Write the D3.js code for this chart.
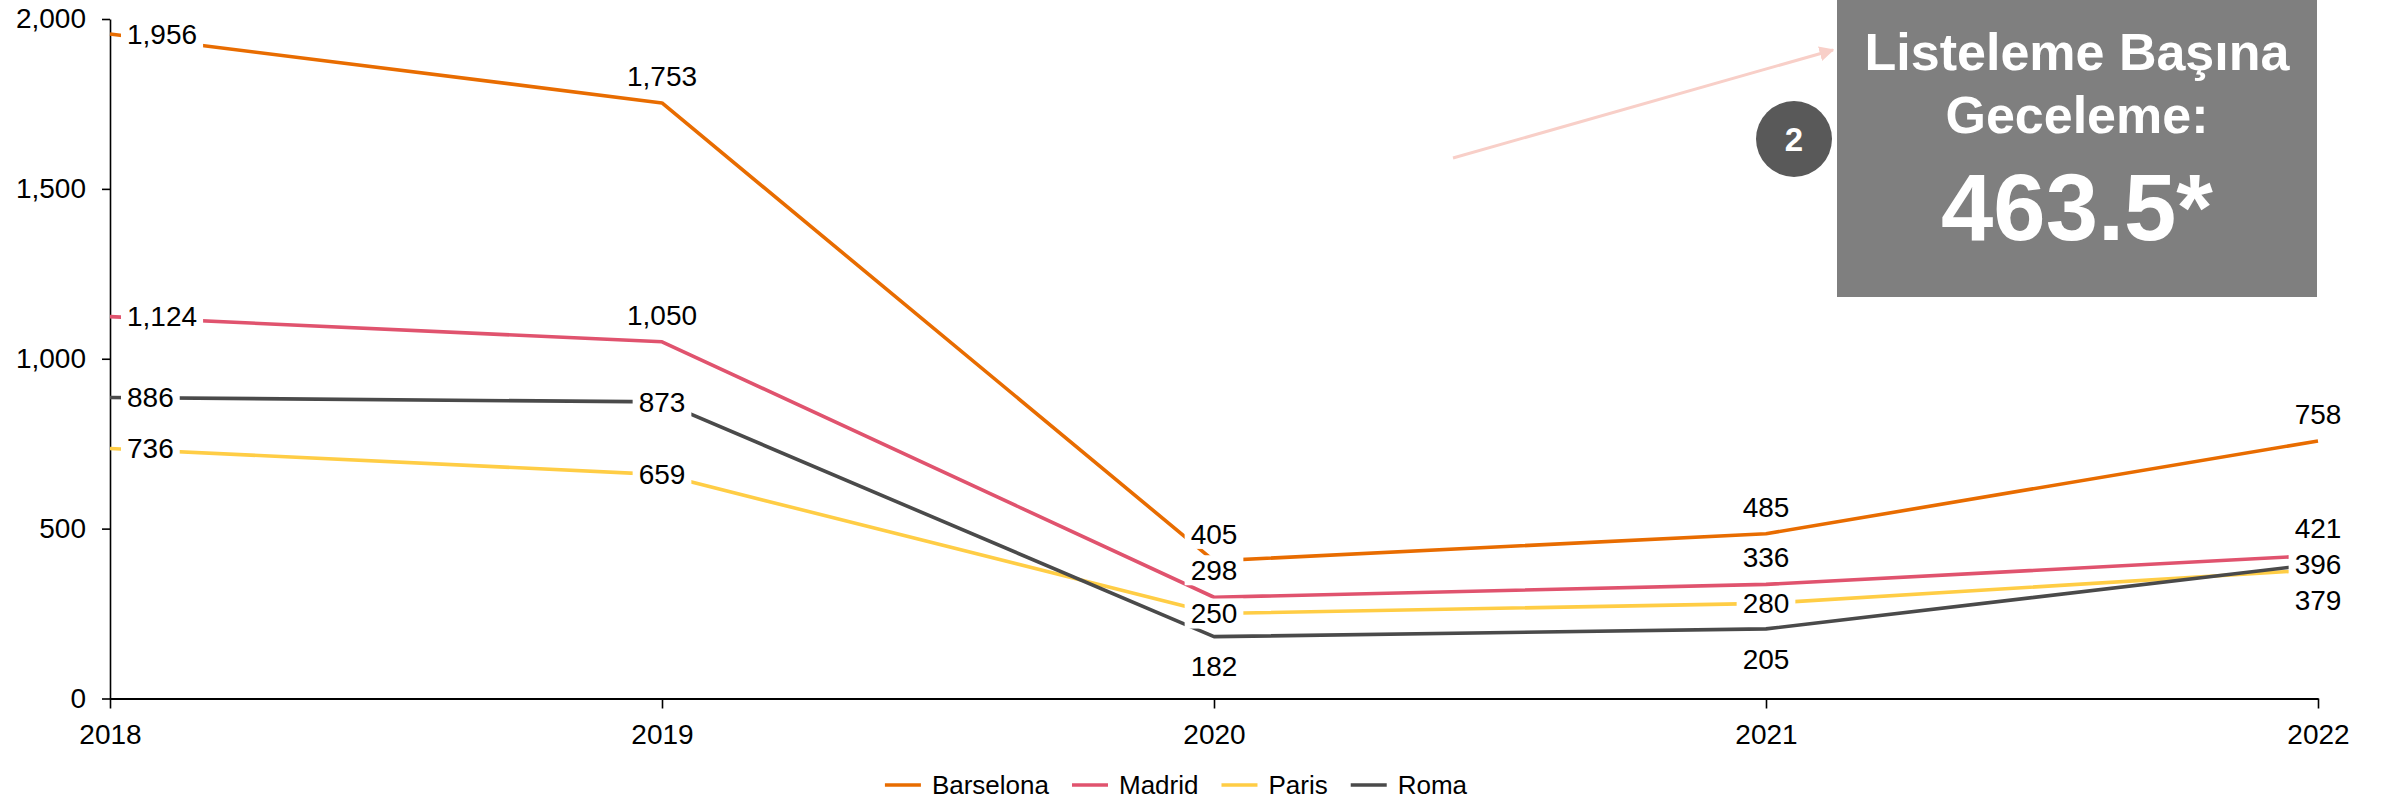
<!DOCTYPE html>
<html>
<head>
<meta charset="utf-8">
<script src="https://cdn.jsdelivr.net/npm/d3@7"></script>
<style>
  html, body { margin: 0; padding: 0; background: #ffffff; }
  svg { display: block; font-family: Arial, "Liberation Sans", sans-serif; }
</style>
</head>
<body>
<svg id="chart" width="2384" height="801"></svg>
<script>
// ---- Data ----
const years = ["2018", "2019", "2020", "2021", "2022"];
const seriesNames = ["Barselona", "Madrid", "Paris", "Roma"];
const barselona = [1956, 1753, 405, 485, 758];
const madrid = [1124, 1050, 298, 336, 421];
const paris = [736, 659, 250, 280, 379];
const roma = [886, 873, 182, 205, 396];
const yTicks = [0, 500, 1000, 1500, 2000];
const calloutLines = ["Listeleme Başına", "Geceleme:"];
const calloutValue = "463.5*";
const calloutBadge = "2";

// label placement for each series (right / above / below / center)
const labelPlacement = {
  Barselona: ["right", "above", "above", "above", "above"],
  Madrid:    ["right", "above", "above", "above", "above"],
  Paris:     ["right", "center", "center", "center", "below"],
  Roma:      ["right", "center", "below", "below", "center"]
};

const seriesValues = [barselona, madrid, paris, roma];
const colors = ["#E86C00", "#E0536E", "#FFCD45", "#4A4A4A"];

// ---- Layout ----
const svg = d3.select("#chart");
const x = d3.scalePoint().domain(years).range([110, 2318]).padding(0);
const y = d3.scaleLinear().domain([0, 2000]).range([698.5, 19]);
const fontFam = 'Arial, "Liberation Sans", sans-serif';

// Y axis
const yAxis = svg.append("g")
  .attr("transform", "translate(110,0)")
  .call(d3.axisLeft(y).tickValues(yTicks).tickSize(8).tickSizeOuter(0).tickPadding(16).tickFormat(d3.format(",")));
yAxis.select(".domain").attr("stroke", "#000").attr("stroke-width", 1.6);
yAxis.selectAll(".tick line").attr("stroke", "#000").attr("stroke-width", 1.6);
yAxis.selectAll(".tick text").attr("font-size", 28).attr("font-family", fontFam).attr("fill", "#000");

// X axis
const xAxis = svg.append("g")
  .attr("transform", "translate(0,698.5)")
  .call(d3.axisBottom(x).tickSize(10).tickSizeOuter(0).tickPadding(16));
xAxis.select(".domain").attr("stroke", "#000").attr("stroke-width", 2);
xAxis.selectAll(".tick line").attr("stroke", "#000").attr("stroke-width", 1.6);
xAxis.selectAll(".tick text").attr("font-size", 28).attr("font-family", fontFam).attr("fill", "#000");

// Lines
const line = d3.line().x((d, i) => x(years[i])).y(d => y(d));
const linesG = svg.append("g");
seriesValues.forEach((vals, si) => {
  linesG.append("path")
    .attr("d", line(vals))
    .attr("fill", "none")
    .attr("stroke", colors[si])
    .attr("stroke-width", 3.6)
    .attr("stroke-linejoin", "round");
});

// Data labels with white backgrounds
const labelsG = svg.append("g");
const fmt = d3.format(",");
seriesValues.forEach((vals, si) => {
  const name = seriesNames[si];
  vals.forEach((v, i) => {
    const px = x(years[i]);
    const py = y(v);
    const pos = labelPlacement[name][i];
    let tx = px, ty = py, anchor = "middle";
    if (pos === "right") { tx = px + 17; anchor = "start"; }
    else if (pos === "above") { ty = py - 27; }
    else if (pos === "below") { ty = py + 30; }
    const g = labelsG.append("g");
    const rect = g.append("rect").attr("fill", "#fff");
    const t = g.append("text")
      .attr("x", tx).attr("y", ty).attr("dy", "0.35em")
      .attr("text-anchor", anchor)
      .attr("font-size", 28).attr("font-family", fontFam).attr("fill", "#000")
      .text(fmt(v));
    const bb = t.node().getBBox();
    rect.attr("x", bb.x - 6).attr("y", ty - 15).attr("width", bb.width + 12).attr("height", 30);
  });
});

// Legend
const legendG = svg.append("g");
const legendY = 785;
const items = [];
seriesNames.forEach((name, si) => {
  const g = legendG.append("g");
  g.append("line").attr("x1", 0).attr("x2", 36).attr("y1", 0).attr("y2", 0)
    .attr("stroke", colors[si]).attr("stroke-width", 3.6);
  const t = g.append("text").attr("x", 47).attr("y", 0).attr("dy", "0.35em")
    .attr("font-size", 26).attr("font-family", fontFam).attr("fill", "#000").text(name);
  const w = 47 + t.node().getComputedTextLength();
  items.push({ g, w });
});
const gap = 23;
const totalW = d3.sum(items, d => d.w) + gap * (items.length - 1);
let cx = 1176 - totalW / 2;
items.forEach(it => {
  it.g.attr("transform", `translate(${cx},${legendY})`);
  cx += it.w + gap;
});

// Callout box
const defs = svg.append("defs");
defs.append("marker")
  .attr("id", "arrowHead")
  .attr("viewBox", "0 0 10 10")
  .attr("refX", 9).attr("refY", 5)
  .attr("markerWidth", 5).attr("markerHeight", 5)
  .attr("orient", "auto")
  .append("path").attr("d", "M0,0 L10,5 L0,10 z").attr("fill", "#F8CFC8");

svg.append("line")
  .attr("x1", 1453).attr("y1", 158).attr("x2", 1833).attr("y2", 50)
  .attr("stroke", "#F8CFC8").attr("stroke-width", 3)
  .attr("marker-end", "url(#arrowHead)");

svg.append("rect").attr("x", 1837).attr("y", 0).attr("width", 480).attr("height", 297).attr("fill", "#7F7F7F");
svg.append("text").attr("x", 2077).attr("y", 70).attr("text-anchor", "middle")
  .attr("font-size", 52).attr("font-weight", "bold").attr("font-family", fontFam).attr("fill", "#fff")
  .text(calloutLines[0]);
svg.append("text").attr("x", 2077).attr("y", 133).attr("text-anchor", "middle")
  .attr("font-size", 52).attr("font-weight", "bold").attr("font-family", fontFam).attr("fill", "#fff")
  .text(calloutLines[1]);
svg.append("text").attr("x", 2077).attr("y", 240).attr("text-anchor", "middle")
  .attr("font-size", 94).attr("font-weight", "bold").attr("font-family", fontFam).attr("fill", "#fff")
  .text(calloutValue);

svg.append("circle").attr("cx", 1794).attr("cy", 139).attr("r", 38).attr("fill", "#595959");
svg.append("text").attr("x", 1794).attr("y", 139).attr("dy", "0.35em").attr("text-anchor", "middle")
  .attr("font-size", 33).attr("font-weight", "bold").attr("font-family", fontFam).attr("fill", "#fff")
  .text(calloutBadge);
</script>
</body>
</html>
